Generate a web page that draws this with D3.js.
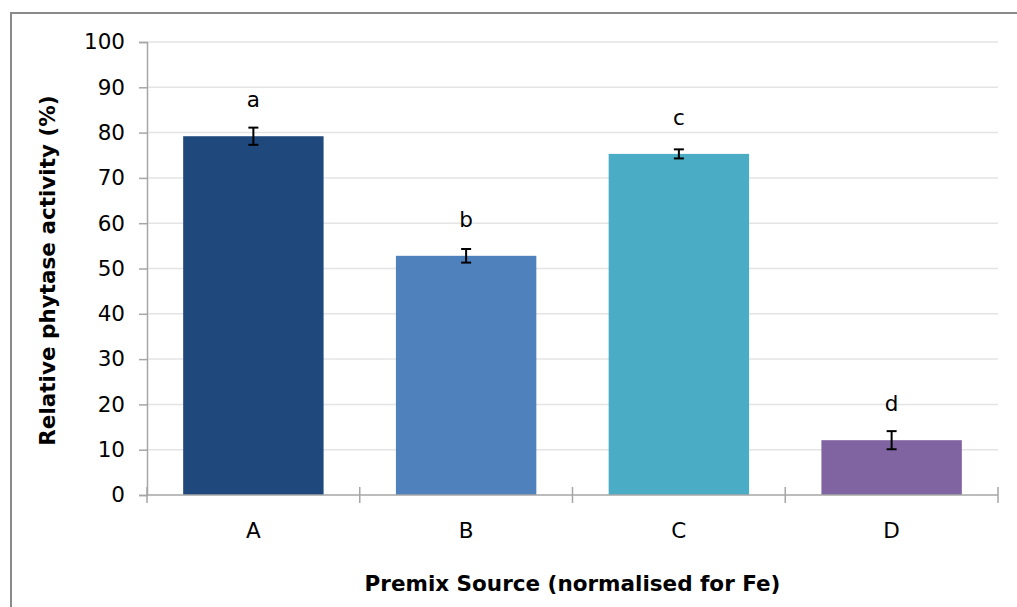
<!DOCTYPE html>
<html>
<head>
<meta charset="utf-8">
<script src="https://cdn.jsdelivr.net/npm/d3@7"></script>
<style>
  body { margin: 0; background: #fff; }
  text { font-family: "DejaVu Sans", Verdana, sans-serif; }
</style>
</head>
<body>
<div id="chart"></div>
<script>
// data
var sources = ["A", "B", "C", "D"]
var activity = [79.2, 52.8, 75.3, 12.1]
var errors = [1.9, 1.5, 1.0, 2.0]
var letters = ["a", "b", "c", "d"]
var colors = ["#1f497d", "#4f81bd", "#4bacc6", "#8064a2"]
var yTicks = [0, 10, 20, 30, 40, 50, 60, 70, 80, 90, 100]

var W = 1017, H = 607
var margin = {top: 42, right: 19, bottom: 112, left: 147}
var width = W - margin.left - margin.right
var height = H - margin.top - margin.bottom

var svg = d3.select("#chart").append("svg")
  .attr("width", W)
  .attr("height", H)

// outer chart frame
svg.append("rect")
  .attr("x", 11).attr("y", 13)
  .attr("width", W + 20).attr("height", H + 20)
  .attr("fill", "none")
  .attr("stroke", "#8a8a8a")
  .attr("stroke-width", 2)

var g = svg.append("g")
  .attr("transform", "translate(" + margin.left + "," + margin.top + ")")

var x = d3.scaleBand()
  .domain(sources)
  .range([0, width])
  .paddingInner(0.34)
  .paddingOuter(0.17)

var y = d3.scaleLinear()
  .domain([0, 100])
  .range([height, 0])

// gridlines
g.selectAll(".grid")
  .data(yTicks.slice(1))
  .enter().append("line")
  .attr("x1", 0).attr("x2", width)
  .attr("y1", function(d) { return y(d) })
  .attr("y2", function(d) { return y(d) })
  .attr("stroke", "#e4e4e4")
  .attr("stroke-width", 1.5)

// y axis
var yAxis = g.append("g")
  .call(d3.axisLeft(y).tickValues(yTicks).tickSize(8).tickPadding(14))
yAxis.select(".domain").attr("stroke", "#a6a6a6").attr("stroke-width", 1.5)
yAxis.selectAll(".tick line").attr("stroke", "#a6a6a6").attr("stroke-width", 1.5)
yAxis.selectAll(".tick text")
  .attr("fill", "#000")
  .style("font-size", "21.5px")
  .style("font-family", "DejaVu Sans, Verdana, sans-serif")

// bars
g.selectAll(".bar")
  .data(activity)
  .enter().append("rect")
  .attr("x", function(d, i) { return x(sources[i]) })
  .attr("y", function(d) { return y(d) })
  .attr("width", x.bandwidth())
  .attr("height", function(d) { return height - y(d) })
  .attr("fill", function(d, i) { return colors[i] })

// x axis (drawn after bars so the baseline sits on top)
var step = x.step()
var xAxis = g.append("g")
  .attr("transform", "translate(0," + height + ")")
xAxis.append("line")
  .attr("x1", 0).attr("x2", width)
  .attr("stroke", "#a6a6a6").attr("stroke-width", 1.5)
xAxis.selectAll(".sep")
  .data(d3.range(sources.length + 1))
  .enter().append("line")
  .attr("x1", function(i) { return x(sources[0]) - x.step() * x.paddingOuter() + i * step })
  .attr("x2", function(i) { return x(sources[0]) - x.step() * x.paddingOuter() + i * step })
  .attr("y1", -8).attr("y2", 8)
  .attr("stroke", "#a6a6a6").attr("stroke-width", 1.5)
xAxis.selectAll(".lab")
  .data(sources)
  .enter().append("text")
  .attr("x", function(d) { return x(d) + x.bandwidth() / 2 })
  .attr("y", 43)
  .attr("text-anchor", "middle")
  .style("font-size", "21.5px")
  .text(function(d) { return d })

// error bars
var cap = 5
var eb = g.selectAll(".err")
  .data(activity)
  .enter().append("g")
  .attr("stroke", "#000")
  .attr("stroke-width", 2)
eb.append("line")
  .attr("x1", function(d, i) { return x(sources[i]) + x.bandwidth() / 2 })
  .attr("x2", function(d, i) { return x(sources[i]) + x.bandwidth() / 2 })
  .attr("y1", function(d, i) { return y(d + errors[i]) })
  .attr("y2", function(d, i) { return y(d - errors[i]) })
eb.append("line")
  .attr("x1", function(d, i) { return x(sources[i]) + x.bandwidth() / 2 - cap })
  .attr("x2", function(d, i) { return x(sources[i]) + x.bandwidth() / 2 + cap })
  .attr("y1", function(d, i) { return y(d + errors[i]) })
  .attr("y2", function(d, i) { return y(d + errors[i]) })
eb.append("line")
  .attr("x1", function(d, i) { return x(sources[i]) + x.bandwidth() / 2 - cap })
  .attr("x2", function(d, i) { return x(sources[i]) + x.bandwidth() / 2 + cap })
  .attr("y1", function(d, i) { return y(d - errors[i]) })
  .attr("y2", function(d, i) { return y(d - errors[i]) })

// significance letters
g.selectAll(".letter")
  .data(letters)
  .enter().append("text")
  .attr("x", function(d, i) { return x(sources[i]) + x.bandwidth() / 2 })
  .attr("y", function(d, i) { return y(activity[i]) - 29 })
  .attr("text-anchor", "middle")
  .style("font-size", "21.5px")
  .text(function(d) { return d })

// axis titles
svg.append("text")
  .attr("transform", "translate(55," + (margin.top + height / 2 + 2) + ") rotate(-90)")
  .attr("text-anchor", "middle")
  .style("font-size", "21.5px")
  .style("font-weight", "bold")
  .text("Relative phytase activity (%)")

svg.append("text")
  .attr("x", margin.left + width / 2)
  .attr("y", 591)
  .attr("text-anchor", "middle")
  .style("font-size", "21.5px")
  .style("font-weight", "bold")
  .text("Premix Source (normalised for Fe)")
</script>
</body>
</html>
